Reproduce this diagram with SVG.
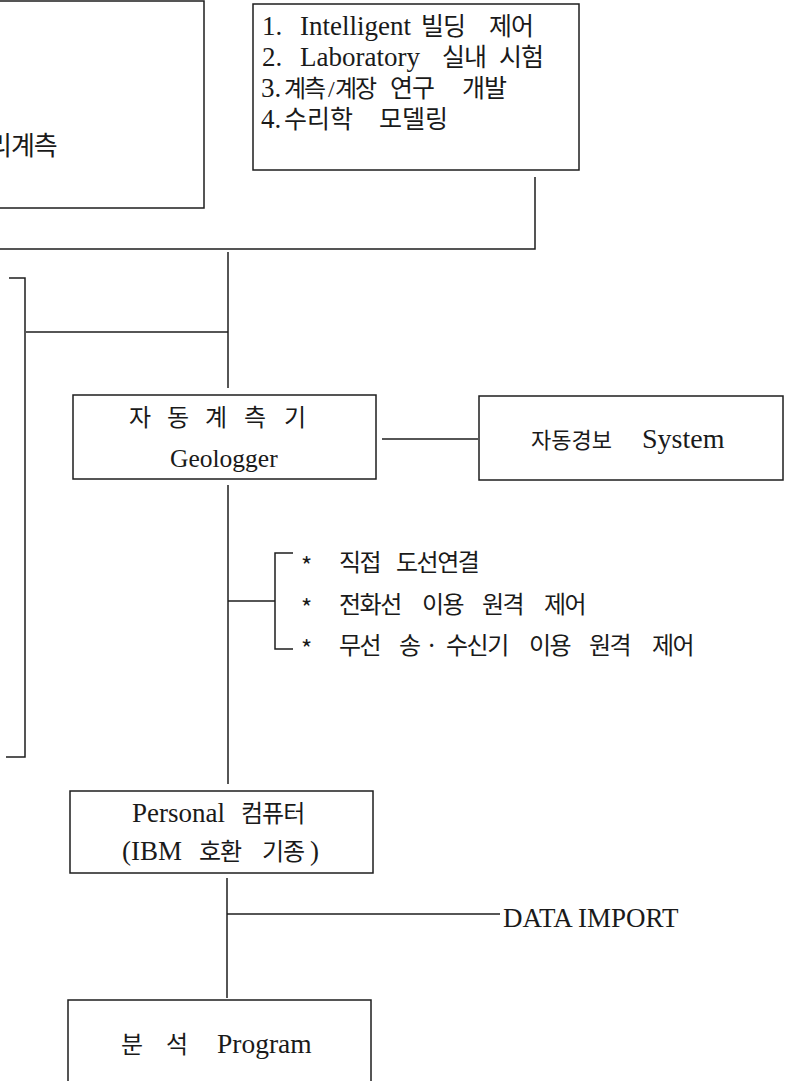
<svg xmlns="http://www.w3.org/2000/svg" width="788" height="1081" viewBox="0 0 788 1081">
<style>
.box{fill:none;stroke:#1e1e1e;stroke-width:1.5}
.ln{fill:none;stroke:#1e1e1e;stroke-width:1.5}
.lat{font-family:"Liberation Serif","Noto Sans CJK KR",serif;fill:#1a1a1a}
.kr{font-family:"Noto Sans CJK KR","Liberation Sans",sans-serif;fill:#1a1a1a;font-weight:400}
</style>
<rect width="788" height="1081" fill="#ffffff"/>
<g id="connectors">
<path class="ln" d="M535,177 V249 H0"/>
<path class="ln" d="M228,252 V388"/>
<path class="ln" d="M26,332 H228"/>
<path class="ln" d="M9,278 H25 V757 H6"/>
<path class="ln" d="M228,485 V784"/>
<path class="ln" d="M382,439 H478"/>
<path class="ln" d="M228,601 H275"/>
<path class="ln" d="M293,553 H275 V649 H293"/>
<path class="ln" d="M227,878 V998"/>
<path class="ln" d="M227,914 H500"/>
</g>
<g id="node-left-top">
<rect class="box" x="-10" y="1" width="214" height="207"/>
<text class="kr" x="-12" y="155" font-size="26" letter-spacing="-1">리계측</text>
</g>
<g id="node-applications">
<rect class="box" x="253" y="4" width="326" height="166"/>
<text class="lat" y="35" font-size="27"><tspan x="262">1.</tspan><tspan x="300">Intelligent</tspan><tspan class="kr" x="421" font-size="25" letter-spacing="-1">빌딩</tspan><tspan class="kr" x="489" font-size="25" letter-spacing="-1">제어</tspan></text>
<text class="lat" y="66" font-size="27"><tspan x="262">2.</tspan><tspan x="300">Laboratory</tspan><tspan class="kr" x="442" font-size="25" letter-spacing="-1">실내</tspan><tspan class="kr" x="499" font-size="25" letter-spacing="-1">시험</tspan></text>
<text class="lat" y="97" font-size="27"><tspan x="261">3.</tspan><tspan class="kr" x="284" font-size="24" letter-spacing="-2">계측</tspan><tspan x="328" font-size="24">/</tspan><tspan class="kr" x="335" font-size="24" letter-spacing="-2">계장</tspan><tspan class="kr" x="390" font-size="25" letter-spacing="-1">연구</tspan><tspan class="kr" x="462" font-size="25" letter-spacing="-1">개발</tspan></text>
<text class="lat" y="128" font-size="27"><tspan x="261">4.</tspan><tspan class="kr" x="284" font-size="25">수리학</tspan><tspan class="kr" x="379" font-size="25">모델링</tspan></text>
</g>
<g id="node-geologger">
<rect class="box" x="73" y="395" width="303" height="84"/>
<text class="kr" x="129 167 205 244 284" y="426" font-size="24">자동계측기</text>
<text class="lat" x="170" y="467" font-size="25.5">Geologger</text>
</g>
<g id="node-alarm">
<rect class="box" x="479" y="396" width="304" height="84"/>
<text y="448"><tspan class="kr" x="531" font-size="22">자동경보</tspan><tspan class="lat" x="642" font-size="28">System</tspan></text>
</g>
<g id="node-comm">
<text class="kr" y="571" font-size="24" letter-spacing="-1.5"><tspan x="301" dy="4">*</tspan><tspan x="339" dy="-4">직접</tspan><tspan x="396">도선연결</tspan></text>
<text class="kr" y="613" font-size="24" letter-spacing="-1.5"><tspan x="301" dy="4">*</tspan><tspan x="339" dy="-4">전화선</tspan><tspan x="422">이용</tspan><tspan x="482">원격</tspan><tspan x="544">제어</tspan></text>
<text class="kr" y="654" font-size="24" letter-spacing="-1.5"><tspan x="301" dy="4">*</tspan><tspan x="339" dy="-4">무선</tspan><tspan x="399">송</tspan><tspan x="425">·</tspan><tspan x="446">수신기</tspan><tspan x="529">이용</tspan><tspan x="589">원격</tspan><tspan x="652">제어</tspan></text>
</g>
<g id="node-pc">
<rect class="box" x="70" y="791" width="303" height="82"/>
<text y="822"><tspan class="lat" x="132" font-size="27">Personal</tspan><tspan class="kr" x="241" font-size="24" letter-spacing="-1">컴퓨터</tspan></text>
<text y="860"><tspan class="lat" x="122" font-size="27">(IBM</tspan><tspan class="kr" x="199" font-size="24" letter-spacing="-1">호환</tspan><tspan class="kr" x="262" font-size="24" letter-spacing="-1">기종</tspan><tspan class="lat" x="310" font-size="27">)</tspan></text>
</g>
<g id="node-import">
<text class="lat" x="503" y="927" font-size="27">DATA IMPORT</text>
</g>
<g id="node-program">
<rect class="box" x="68" y="1000" width="303" height="100"/>
<text y="1053"><tspan class="kr" x="121" font-size="24">분</tspan><tspan class="kr" x="166" font-size="24">석</tspan><tspan class="lat" x="217" font-size="27.5">Program</tspan></text>
</g>
</svg>
